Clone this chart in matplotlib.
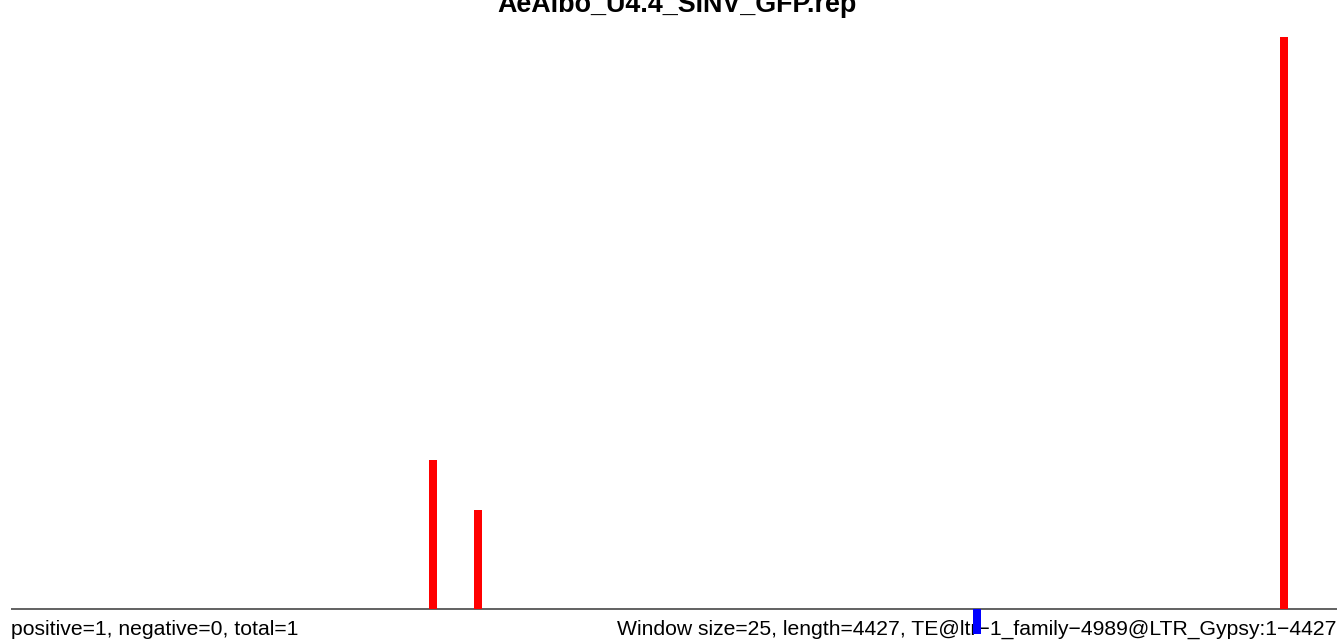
import matplotlib
matplotlib.use("Agg")
import matplotlib.pyplot as plt

plt.rcParams['font.family'] = ['Liberation Sans', 'DejaVu Sans']

title = "AeAlbo_U4.4_SINV_GFP.rep"
seq_length = 4427
pos_x = [1410, 1560, 4250]
pos_counts = [6, 4, 23]
neg_x = [3225]
neg_counts = [1]
left_label = "positive=1, negative=0, total=1"
right_label = "Window size=25, length=4427, TE@ltr\u22121_family\u22124989@LTR_Gypsy:1\u22124427"

W, H = 1337, 641
fig = plt.figure(figsize=(W / 100, H / 100), dpi=100)
ax_left = 11 / W
ax_top = 37
ax = fig.add_axes([ax_left, 0, 1 - ax_left, (H - ax_top) / H])
ymax = max(pos_counts)
px_per_unit = (609 - ax_top) / ymax
ymin = -(H - 609) / px_per_unit
ax.set_xlim(0, seq_length)
ax.set_ylim(ymin, ymax)
ax.axis('off')

text_y = -(635 - 609) / px_per_unit
ax.axhline(0, color='#555555', lw=1.3, zorder=1)
ax.text(0, text_y, left_label, fontsize=15.2, ha='left', va='baseline', zorder=2, clip_on=False)
ax.text(seq_length, text_y, right_label, fontsize=15.2, ha='right', va='baseline', zorder=2, clip_on=False)
ax.bar(pos_x, pos_counts, width=27, color='#ff0000', zorder=3)
ax.bar(neg_x, [-v for v in neg_counts], width=27, color='#0000ff', zorder=3)

fig.text(677 / W, 1 - 12 / H, title, fontsize=19.4, fontweight='bold', ha='center', va='baseline')

fig.savefig("out.png", dpi=100)
